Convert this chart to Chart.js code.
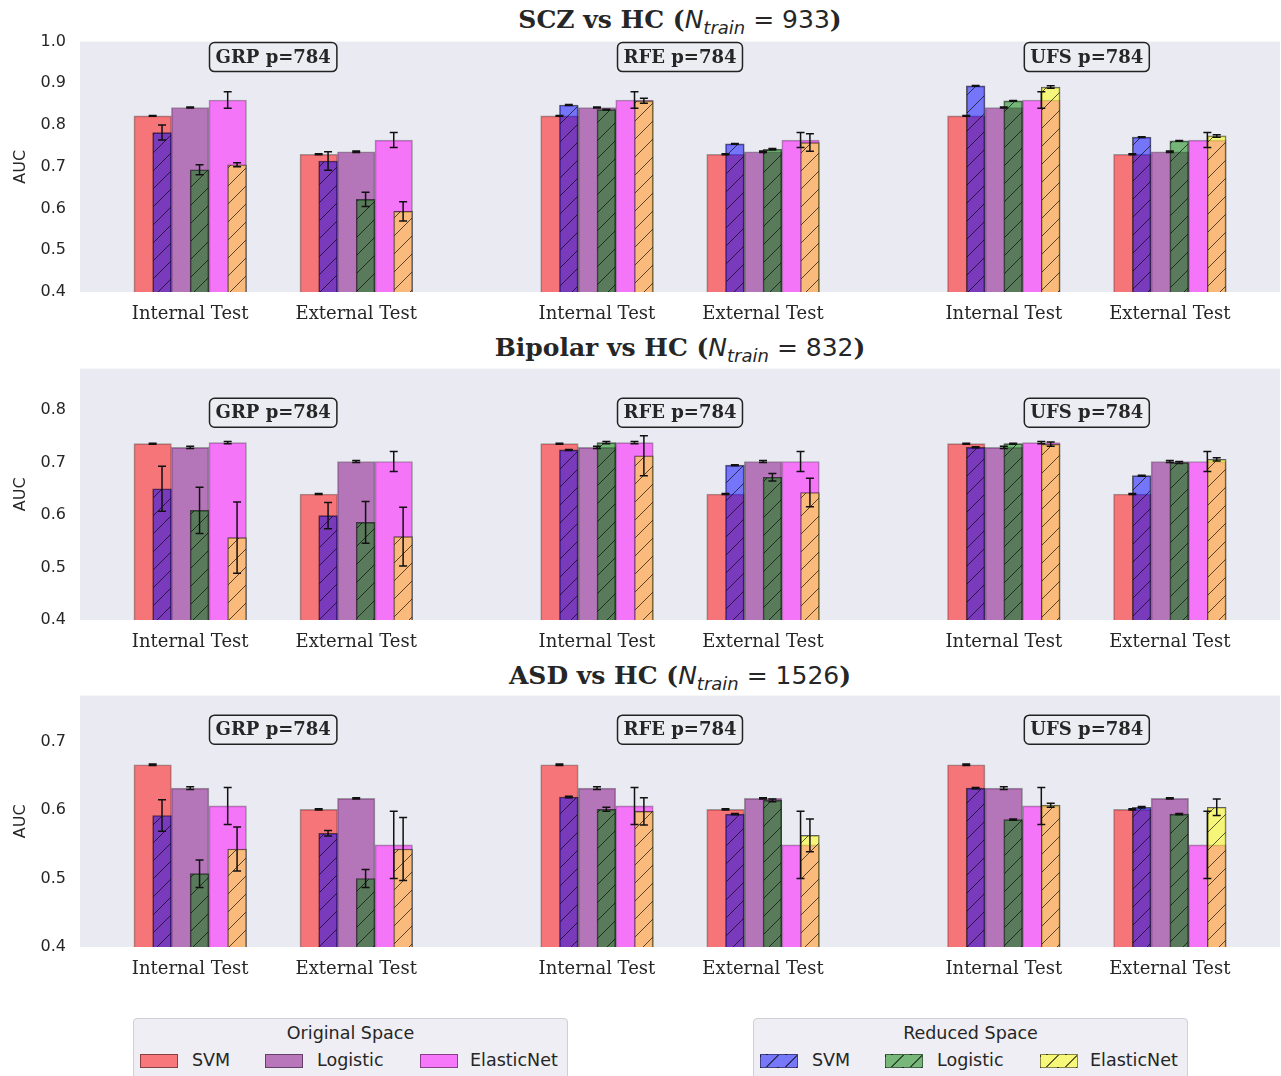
<!DOCTYPE html>
<html lang="en">
<head>
<meta charset="UTF-8">
<title>AUC: original vs reduced feature space</title>
<script src="https://cdn.jsdelivr.net/npm/chart.js@4"></script>
<style>
  body { margin: 0; width: 1281px; height: 1076px; position: relative; overflow: hidden; background: #fff;
         font-family: 'DejaVu Sans', sans-serif; color: #262626; }
  canvas { position: absolute; left: 0; }
  .title { position: absolute; left: 80px; width: 1200px; height: 30px; line-height: 30px; text-align: center;
           font-size: 25px; white-space: nowrap; }
  .title b { font-family: 'DejaVu Serif', serif; }
  .title i { font-family: 'DejaVu Sans', sans-serif; }
  .title sub { font-size: 18px; line-height: 0; }
  .legend { position: absolute; top: 1018px; width: 435px; height: 80px; box-sizing: border-box;
            background: #eeeef4; border: 1px solid #cfcfd4; border-radius: 4px; }
  .legend .head { position: absolute; top: 4px; width: 100%; text-align: center; font-size: 17.5px; }
  .sw { position: absolute; top: 1054px; width: 36px; height: 12px; border: 1px solid rgba(0,0,0,0.45); }
  .hatch { background-image: repeating-linear-gradient(135deg, transparent 0 12px, rgba(0,0,0,0.6) 12px 13.3px); }
  .lab { position: absolute; top: 1049px; font-size: 17.5px; line-height: 22px; }
</style>
</head>
<body>
<div class="title" style="top:5px"><b>SCZ vs HC (</b><i>N<sub>train</sub></i> = 933<b>)</b></div>
<div class="title" style="top:333px"><b>Bipolar vs HC (</b><i>N<sub>train</sub></i> = 832<b>)</b></div>
<div class="title" style="top:661px"><b>ASD vs HC (</b><i>N<sub>train</sub></i> = 1526<b>)</b></div>

<canvas id="scz" width="1281" height="312" style="top:18px"></canvas>
<canvas id="bip" width="1281" height="313" style="top:345px"></canvas>
<canvas id="asd" width="1281" height="313" style="top:672px"></canvas>

<div class="legend" style="left:133px"><div class="head">Original Space</div></div>
<div class="sw" style="left:140px; background:rgba(255,0,0,0.5)"></div><div class="lab" style="left:192px">SVM</div>
<div class="sw" style="left:265px; background:rgba(128,0,128,0.5)"></div><div class="lab" style="left:317px">Logistic</div>
<div class="sw" style="left:420px; background:rgba(255,0,255,0.5)"></div><div class="lab" style="left:470px">ElasticNet</div>

<div class="legend" style="left:753px"><div class="head">Reduced Space</div></div>
<div class="sw hatch" style="left:760px; background-color:rgba(0,0,255,0.5)"></div><div class="lab" style="left:812px">SVM</div>
<div class="sw hatch" style="left:885px; background-color:rgba(0,128,0,0.5)"></div><div class="lab" style="left:937px">Logistic</div>
<div class="sw hatch" style="left:1040px; background-color:rgba(255,255,0,0.5)"></div><div class="lab" style="left:1090px">ElasticNet</div>

<script>
// categories
const groups = ['GRP p=784', 'RFE p=784', 'UFS p=784'];
const splits = ['Internal Test', 'External Test'];
const models = ['SVM', 'Logistic', 'ElasticNet'];

// SCZ vs HC: original space [model][internal, external]
const sczOrig    = [[0.822, 0.730], [0.842, 0.736], [0.860, 0.764]];
const sczOrigErr = [[0.001, 0.001], [0.001, 0.002], [0.020, 0.018]];
// reduced space [GRP, RFE, UFS][model][internal, external]
const sczRed = [
  [[0.782, 0.714], [0.693, 0.622], [0.705, 0.593]],
  [[0.848, 0.755], [0.837, 0.742], [0.858, 0.758]],
  [[0.894, 0.771], [0.858, 0.762], [0.891, 0.774]]
];
const sczRedErr = [
  [[0.018, 0.022], [0.012, 0.017], [0.005, 0.023]],
  [[0.001, 0.001], [0.001, 0.002], [0.006, 0.021]],
  [[0.001, 0.001], [0.001, 0.001], [0.003, 0.003]]
];

// Bipolar vs HC
const bipOrig    = [[0.736, 0.640], [0.729, 0.702], [0.738, 0.702]];
const bipOrigErr = [[0.001, 0.001], [0.002, 0.002], [0.002, 0.019]];
const bipRed = [
  [[0.650, 0.599], [0.609, 0.586], [0.557, 0.559]],
  [[0.724, 0.695], [0.738, 0.672], [0.713, 0.643]],
  [[0.729, 0.675], [0.736, 0.700], [0.735, 0.706]]
];
const bipRedErr = [
  [[0.043, 0.025], [0.044, 0.040], [0.068, 0.056]],
  [[0.001, 0.001], [0.002, 0.007], [0.038, 0.027]],
  [[0.001, 0.001], [0.001, 0.002], [0.004, 0.003]]
];

// ASD vs HC
const asdOrig    = [[0.666, 0.601], [0.632, 0.617], [0.606, 0.549]];
const asdOrigErr = [[0.001, 0.001], [0.002, 0.001], [0.027, 0.049]];
const asdRed = [
  [[0.592, 0.566], [0.507, 0.500], [0.543, 0.543]],
  [[0.619, 0.594], [0.601, 0.614], [0.598, 0.563]],
  [[0.632, 0.604], [0.586, 0.594], [0.607, 0.604]]
];
const asdRedErr = [
  [[0.023, 0.004], [0.020, 0.013], [0.032, 0.046]],
  [[0.001, 0.001], [0.003, 0.002], [0.020, 0.024]],
  [[0.001, 0.001], [0.001, 0.001], [0.003, 0.012]]
];

// y tick labels per panel
const sczTicks = [0.4, 0.5, 0.6, 0.7, 0.8, 0.9, 1.0];
const bipTicks = [0.4, 0.5, 0.6, 0.7, 0.8];
const asdTicks = [0.4, 0.5, 0.6, 0.7];

// layout along x (units: one category step)
const groupCenters = [0, 2.45, 4.9];
const splitOffset = [-0.5, 0.5];
const BAR_W = 0.226;
const X_MIN = -1.1635, X_MAX = 6.0635;
const PX_PER_UNIT = 1200 / (X_MAX - X_MIN);

const origColors = ['rgba(255,0,0,0.5)', 'rgba(128,0,128,0.5)', 'rgba(255,0,255,0.5)'];
const redColors  = ['rgba(0,0,255,0.5)', 'rgba(0,128,0,0.5)', 'rgba(255,255,0,0.5)'];

function hatch(color) {
  const s = 18, c = document.createElement('canvas');
  c.width = c.height = s;
  const g = c.getContext('2d');
  g.fillStyle = color;
  g.fillRect(0, 0, s, s);
  g.strokeStyle = 'rgba(0,0,0,0.65)';
  g.lineWidth = 1;
  g.beginPath();
  g.moveTo(0, s); g.lineTo(s, 0);
  g.moveTo(-2, 2); g.lineTo(2, -2);
  g.moveTo(s - 2, s + 2); g.lineTo(s + 2, s - 2);
  g.stroke();
  return g.createPattern(c, 'repeat');
}

const splitTicks = [];
groupCenters.forEach(c => splitOffset.forEach(o => splitTicks.push(c + o)));

function buildDatasets(orig, origErr, red, redErr) {
  const ds = [];
  models.forEach((m, mi) => {
    const pts = [], errs = [];
    groupCenters.forEach((c, g) => splitOffset.forEach((o, s) => {
      pts.push({ x: c + o + (mi - 1) * BAR_W, y: orig[mi][s] });
      errs.push(origErr[mi][s]);
    }));
    ds.push({
      label: m + ' (original)', data: pts, errors: errs, order: 2, grouped: false,
      backgroundColor: origColors[mi], borderColor: 'rgba(0,0,0,0.35)', borderWidth: 1,
      borderSkipped: false, barThickness: BAR_W * PX_PER_UNIT
    });
  });
  models.forEach((m, mi) => {
    const pts = [], errs = [];
    groupCenters.forEach((c, g) => splitOffset.forEach((o, s) => {
      pts.push({ x: c + o + (mi - 1) * BAR_W + BAR_W / 4, y: red[g][mi][s] });
      errs.push(redErr[g][mi][s]);
    }));
    ds.push({
      label: m + ' (reduced)', data: pts, errors: errs, order: 1, grouped: false,
      backgroundColor: hatch(redColors[mi]), borderColor: 'rgba(0,0,0,0.6)', borderWidth: 1,
      borderSkipped: false, barThickness: BAR_W * PX_PER_UNIT / 2
    });
  });
  return ds;
}

const plotBg = {
  id: 'plotBg',
  beforeDraw(chart) {
    const a = chart.chartArea, ctx = chart.ctx;
    ctx.save();
    ctx.fillStyle = '#eaeaf2';
    ctx.fillRect(a.left, a.top, a.right - a.left, a.bottom - a.top);
    ctx.restore();
  }
};

const errorBars = {
  id: 'errorBars',
  afterDatasetsDraw(chart) {
    const ctx = chart.ctx, ys = chart.scales.y;
    ctx.save();
    ctx.strokeStyle = '#111';
    ctx.lineWidth = 1.5;
    chart.data.datasets.forEach((ds, i) => {
      chart.getDatasetMeta(i).data.forEach((bar, k) => {
        const v = ds.data[k].y, e = ds.errors[k];
        const yt = ys.getPixelForValue(v + e), yb = ys.getPixelForValue(v - e);
        ctx.beginPath();
        ctx.moveTo(bar.x, yt); ctx.lineTo(bar.x, yb);
        ctx.moveTo(bar.x - 4, yt); ctx.lineTo(bar.x + 4, yt);
        ctx.moveTo(bar.x - 4, yb); ctx.lineTo(bar.x + 4, yb);
        ctx.stroke();
      });
    });
    ctx.restore();
  }
};

const groupLabels = {
  id: 'groupLabels',
  afterDatasetsDraw(chart, args, opts) {
    const ctx = chart.ctx, xs = chart.scales.x, ys = chart.scales.y;
    const y = ys.getPixelForValue(opts.anchor);
    ctx.save();
    ctx.font = 'bold 18px "DejaVu Serif"';
    groups.forEach((g, i) => {
      const x = xs.getPixelForValue(groupCenters[i]);
      const w = ctx.measureText(g).width + 12, h = 29;
      ctx.beginPath();
      ctx.roundRect(x - w / 2, y - h / 2, w, h, 5);
      ctx.fillStyle = '#ececf3';
      ctx.fill();
      ctx.lineWidth = 1.5;
      ctx.strokeStyle = '#222';
      ctx.stroke();
      ctx.fillStyle = '#262626';
      ctx.textAlign = 'center';
      ctx.textBaseline = 'middle';
      ctx.fillText(g, x, y + 1);
    });
    ctx.restore();
  }
};

function makePanel(id, orig, origErr, red, redErr, yMax, ticks) {
  const allVals = orig.flat().concat(red.flat(2));
  new Chart(document.getElementById(id), {
    type: 'bar',
    data: { datasets: buildDatasets(orig, origErr, red, redErr) },
    plugins: [plotBg, errorBars, groupLabels],
    options: {
      responsive: false,
      animation: false,
      layout: { padding: { top: 0, right: 1, left: 0, bottom: 0 } },
      plugins: {
        legend: { display: false },
        tooltip: { enabled: false },
        groupLabels: { anchor: Math.max(...allVals) * 1.077 }
      },
      scales: {
        x: {
          type: 'linear', min: X_MIN, max: X_MAX, offset: false,
          grid: { display: false, drawTicks: false }, border: { display: false },
          afterBuildTicks: s => { s.ticks = splitTicks.map(v => ({ value: v })); },
          ticks: {
            autoSkip: false, maxRotation: 0, padding: 12, color: '#262626',
            font: { family: 'DejaVu Serif', size: 18 },
            callback: (v, i) => splits[i % 2]
          },
          afterFit: s => { s.height = 38; }
        },
        y: {
          min: 0.4, max: yMax,
          grid: { display: false, drawTicks: false }, border: { display: false },
          afterBuildTicks: s => { s.ticks = ticks.map(v => ({ value: v })); },
          ticks: {
            padding: 14, color: '#262626',
            font: { family: 'DejaVu Sans', size: 16 },
            callback: v => v.toFixed(1)
          },
          title: {
            display: true, text: 'AUC', color: '#262626',
            font: { family: 'DejaVu Sans', size: 16 }, padding: { top: 11, bottom: 0 }
          },
          afterFit: s => { s.width = 80; }
        }
      }
    }
  });
}

makePanel('scz', sczOrig, sczOrigErr, sczRed, sczRedErr, 1.0, sczTicks);
makePanel('bip', bipOrig, bipOrigErr, bipRed, bipRedErr, 0.879, bipTicks);
makePanel('asd', asdOrig, asdOrigErr, asdRed, asdRedErr, 0.767, asdTicks);
</script>
</body>
</html>
